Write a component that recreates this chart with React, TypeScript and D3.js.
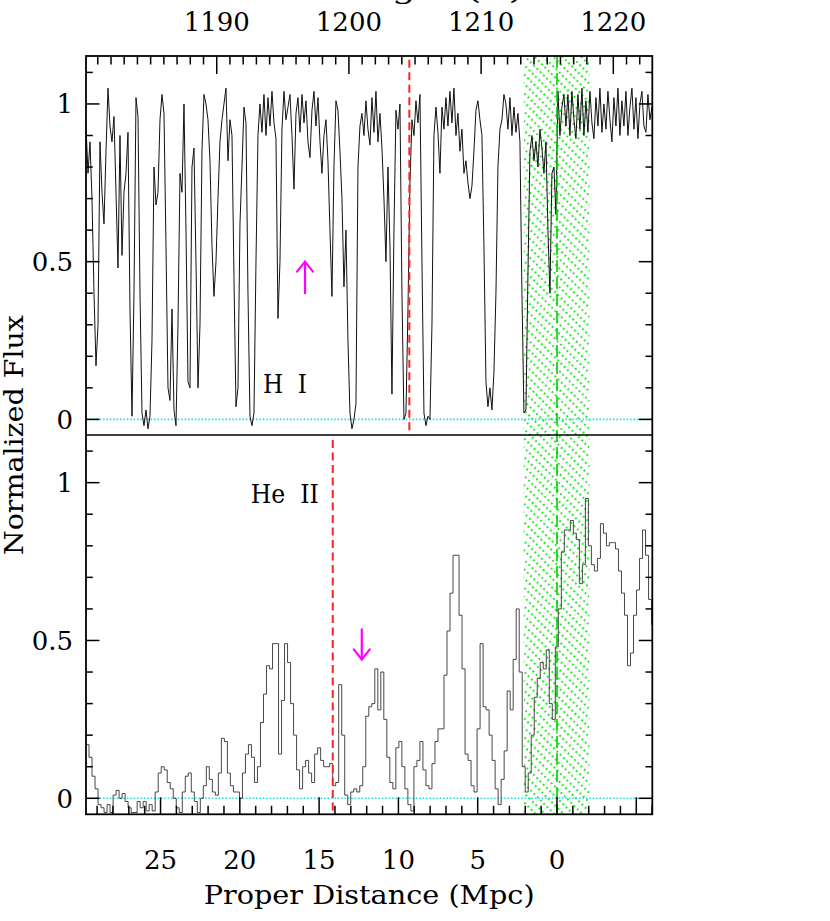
import React from "react";
import * as d3 from "d3";

// ---------------- data ----------------
// H I spectrum: flux on a uniform grid in proper distance (Mpc), decreasing distance
const hiStart = 29.70;
const hiStep = 0.1261;
const hiFlux = [
  0.93, 0.78, 0.88, 0.70, 0.40, 0.17, 0.30, 0.88, 0.72, 0.62,
  0.85, 1.05, 0.93, 0.88, 0.96, 0.72, 0.48, 0.90, 0.52, 0.72,
  0.78, 0.91, 0.35, 0.01, 0.40, 1.02, 0.96, 0.40, 0.02, -0.02,
  0.03, -0.03, 0.01, 0.25, 0.80, 0.68, 0.72, 0.95, 1.03, 0.97,
  0.55, 0.10, 0.06, 0.35, 0.03, -0.02, 0.30, 0.78, 0.72, 1.00,
  0.60, 0.12, 0.10, 0.80, 0.86, 0.50, 0.10, 0.30, 0.85, 1.03,
  1.00, 0.95, 0.82, 0.55, 0.39, 0.50, 0.70, 0.88, 0.95, 1.00,
  1.05, 0.82, 0.95, 0.90, 0.45, 0.04, 0.10, 0.62, 0.80, 0.99,
  0.94, 0.40, 0.01, -0.02, 0.02, 0.50, 0.90, 1.00, 0.91, 1.03,
  0.90, 1.02, 0.93, 1.04, 0.94, 0.89, 0.32, 0.50, 0.92, 1.04,
  0.95, 0.99, 1.03, 0.90, 0.73, 0.97, 1.02, 0.91, 1.03, 0.94,
  1.01, 0.88, 0.83, 0.98, 1.04, 0.93, 1.02, 0.88, 0.78, 0.90,
  0.95, 0.82, 0.60, 0.39, 0.80, 1.01, 0.98, 0.85, 0.70, 0.42,
  0.60, 0.25, 0.02, -0.03, 0.00, 0.05, 0.80, 0.93, 0.97, 0.90,
  1.01, 0.92, 0.87, 1.02, 0.91, 1.04, 0.88, 0.97, 0.86, 0.70,
  0.50, 0.80, 0.55, 0.08, 0.60, 0.98, 0.92, 1.00, 0.40, 0.00,
  0.02, 0.35, 0.75, 0.95, 0.90, 1.01, 0.94, 1.03, 0.50, 0.02,
  -0.02, 0.01, 0.00, 0.30, 0.90, 0.99, 0.91, 0.78, 0.99, 0.92,
  1.02, 0.93, 1.04, 0.94, 1.05, 0.90, 0.97, 0.85, 0.92, 0.78,
  0.82, 0.75, 0.70, 0.74, 0.85, 0.98, 1.01, 0.95, 0.90, 0.55,
  0.12, 0.04, 0.10, 0.03, 0.15, 0.40, 0.80, 0.92, 0.95, 1.03,
  1.00, 0.92, 1.02, 0.90, 0.99, 0.91, 0.97, 0.88, 0.40, 0.02,
  0.03, 0.46, 0.85, 0.90, 0.82, 0.88, 0.80, 0.92, 0.86, 0.78,
  0.88, 0.60, 0.40, 0.78, 0.80, 0.65, 1.04, 0.90, 0.99, 1.03,
  0.93, 1.03, 0.90, 1.04, 0.95, 0.89, 1.03, 0.92, 1.05, 0.90,
  1.01, 0.91, 1.04, 0.94, 0.89, 1.02, 0.93, 1.05, 0.91, 1.00,
  0.92, 1.04, 0.95, 0.88, 1.02, 0.93, 1.05, 0.90, 1.01, 0.93,
  1.04, 0.90, 0.99, 1.05, 0.92, 1.02, 0.89, 1.00, 1.04, 0.93,
  0.91, 1.03, 0.95, 0.99,
];

// He II spectrum: binned flux, bins of equal width in proper distance (Mpc)
const heStart = 29.70;
const heStep = 0.1897;
const heFlux = [
  0.17, 0.13, 0.07, 0.03, -0.02, -0.03, -0.045, -0.02, -0.045, 0.01,
  0.025, 0.00, 0.015, -0.01, -0.03, -0.045, -0.045, -0.01, -0.03, -0.01,
  -0.04, -0.02, -0.04, 0.02, 0.08, 0.10, 0.09, 0.05, 0.03, 0.00,
  -0.03, -0.045, 0.02, 0.07, 0.08, 0.02, -0.01, -0.045, 0.00, 0.04,
  0.10, 0.06, 0.02, 0.01, 0.08, 0.19, 0.18, 0.08, 0.04, 0.02,
  0.02, 0.00, 0.08, 0.14, 0.17, 0.13, 0.05, 0.10, 0.24, 0.33,
  0.42, 0.41, 0.49, 0.49, 0.14, 0.31, 0.49, 0.43, 0.30, 0.20,
  0.09, 0.03, 0.10, 0.12, 0.08, 0.05, 0.14, 0.16, 0.12, 0.10,
  0.10, 0.11, 0.04, 0.05, 0.36, 0.20, 0.01, -0.02, 0.02, 0.03,
  0.02, 0.04, 0.10, 0.26, 0.29, 0.30, 0.41, 0.28, 0.40, 0.25,
  0.13, 0.05, 0.03, 0.16, 0.18, 0.10, 0.03, -0.02, -0.04, 0.10,
  0.12, 0.18, 0.09, 0.04, 0.03, 0.11, 0.18, 0.22, 0.22, 0.39,
  0.53, 0.65, 0.77, 0.77, 0.58, 0.41, 0.14, 0.12, 0.04, 0.02,
  0.22, 0.49, 0.29, 0.28, 0.20, 0.12, 0.03, -0.02, 0.06, 0.15,
  0.34, 0.28, 0.44, 0.60, 0.40, 0.10, 0.02, 0.08, 0.20, 0.32,
  0.38, 0.43, 0.41, 0.47, 0.30, 0.25, 0.48, 0.60, 0.78, 0.85,
  0.85, 0.88, 0.84, 0.82, 0.68, 0.74, 0.95, 0.80, 0.74, 0.72,
  0.76, 0.87, 0.84, 0.80, 0.81, 0.81, 0.79, 0.72, 0.65, 0.58,
  0.42, 0.46, 0.58, 0.66, 0.76, 0.85, 0.77, 0.63, 0.55,
];

const fluxTickValues = [0, 0.1, 0.2, 0.3, 0.4, 0.5, 0.6, 0.7, 0.8, 0.9, 1.0, 1.1];
const fluxLabels = ["0", "0.5", "1"];
const fluxLabelValues = [0, 0.5, 1];
const distLabels = ["25", "20", "15", "10", "5", "0"];
const distLabelValues = [25, 20, 15, 10, 5, 0];
const waveLabels = ["1190", "1200", "1210", "1220"];
const waveLabelValues = [1190, 1200, 1210, 1220];

const hiMarkerDist = 9.31;   // red dashed line, H I panel
const heMarkerDist = 14.14;  // red dashed line, He II panel
const quasarDist = 0;        // green dashed line
const proximityZone = [2.1, -2.05]; // green hatched band
const hiArrow = { d: 15.89, from: 0.40, to: 0.50 };
const heArrow = { d: 12.31, from: 0.535, to: 0.44 };

const FONT = "'DejaVu Serif', serif";

export default function App() {
  const L = 86, R = 652.3, T = 56, MID = 435, B = 814.3;
  const x = d3.scaleLinear().domain([29.70, -6.01]).range([L, R]);
  const w = d3.scaleLinear().domain([1180.11, 1222.95]).range([L, R]);
  const yT = d3.scaleLinear().domain([-0.0495, 1.152]).range([MID, T]);
  const yB = d3.scaleLinear().domain([-0.0507, 1.151]).range([B, MID]);

  const hiPts: [number, number][] = hiFlux.map((f, i) => [hiStart - i * hiStep, f]);
  const hiPath = d3.line<[number, number]>().x(d => x(d[0])).y(d => yT(d[1]))(hiPts) || "";

  const hePts: [number, number][] = heFlux.map((f, i) => [heStart - i * heStep, f]);
  hePts.push([heStart - heFlux.length * heStep, heFlux[heFlux.length - 1]]);
  const hePath = d3.line<[number, number]>().curve(d3.curveStepAfter).x(d => x(d[0])).y(d => yB(d[1]))(hePts) || "";

  const distTicks = d3.range(-6, 30);
  const waveTicks = d3.range(1181, 1223);

  const isMajor = (v: number) => fluxLabelValues.some(m => Math.abs(m - v) < 1e-6);

  const zoneL = x(proximityZone[0]);
  const zoneR = x(proximityZone[1]);

  const arrow = (cx: number, y1: number, y2: number, key: string) => {
    const dir = y2 < y1 ? 1 : -1; // head at y2
    return (
      <g key={key} stroke="#ff00ff" strokeWidth={2.2} fill="none" strokeLinecap="round">
        <line x1={cx} y1={y1} x2={cx} y2={y2} />
        <polyline points={`${cx - 8},${y2 + dir * 10} ${cx},${y2} ${cx + 8},${y2 + dir * 10}`} />
      </g>
    );
  };

  return (
    <svg width={830} height={921} style={{ position: "absolute", left: 0, top: 0, background: "#fff" }}
      fontFamily={FONT}>
      <defs>
        <clipPath id="clipTop"><rect x={L} y={T} width={R - L} height={MID - T} /></clipPath>
        <clipPath id="clipBot"><rect x={L} y={MID} width={R - L} height={B - MID} /></clipPath>
        <pattern id="hatch" patternUnits="userSpaceOnUse" width={6.6} height={4.6} patternTransform="rotate(-45)">
          <line x1={1.2} y1={0} x2={1.2} y2={4.6} stroke="#00e600" strokeWidth={1.8} strokeDasharray="1.8 2.8" />
        </pattern>
      </defs>

      {/* green hatched proximity zone */}
      <rect x={zoneL} y={T} width={zoneR - zoneL} height={B - T} fill="url(#hatch)" />

      {/* zero lines */}
      <line x1={L} x2={R} y1={yT(0)} y2={yT(0)} stroke="#22dede" strokeWidth={1.6} strokeDasharray="1.6 1.8" />
      <line x1={L} x2={R} y1={yB(0)} y2={yB(0)} stroke="#22dede" strokeWidth={1.6} strokeDasharray="1.6 1.8" />

      {/* spectra */}
      <path d={hiPath} fill="none" stroke="#111" strokeWidth={1} clipPath="url(#clipTop)" />
      <path d={hePath} fill="none" stroke="#333" strokeWidth={0.9} clipPath="url(#clipBot)" />

      {/* markers */}
      <line x1={x(hiMarkerDist)} x2={x(hiMarkerDist)} y1={yT(1.14)} y2={MID} stroke="#ff2020" strokeWidth={2} strokeDasharray="8 4.5" />
      <line x1={x(heMarkerDist)} x2={x(heMarkerDist)} y1={yB(1.135)} y2={B} stroke="#ff2020" strokeWidth={2} strokeDasharray="8 4.5" />
      <line x1={x(quasarDist)} x2={x(quasarDist)} y1={T} y2={B} stroke="#00cc00" strokeWidth={1.6} strokeDasharray="12 5" />

      {arrow(x(hiArrow.d), yT(hiArrow.from), yT(hiArrow.to), "a1")}
      {arrow(x(heArrow.d), yB(heArrow.from), yB(heArrow.to), "a2")}

      {/* ion labels */}
      <text x={x(18.54)} y={yT(0.083)} fontSize={26} xmlSpace="preserve" style={{ whiteSpace: "pre" }} textLength={44} lengthAdjust="spacingAndGlyphs">{"H  I"}</text>
      <text x={x(19.31)} y={yB(0.937)} fontSize={26} xmlSpace="preserve" style={{ whiteSpace: "pre" }} textLength={68} lengthAdjust="spacingAndGlyphs">{"He  II"}</text>

      {/* frame */}
      <rect x={L} y={T} width={R - L} height={B - T} fill="none" stroke="#000" strokeWidth={1.8} />
      <line x1={L} x2={R} y1={MID} y2={MID} stroke="#000" strokeWidth={1.6} />

      {/* flux ticks both panels */}
      {[yT, yB].map((ys, pi) => (
        <g key={"ft" + pi} stroke="#000" strokeWidth={1.5}>
          {fluxTickValues.map(v => {
            const len = isMajor(v) ? 13.5 : 6.8;
            return (
              <g key={v}>
                <line x1={L} x2={L + len} y1={ys(v)} y2={ys(v)} />
                <line x1={R} x2={R - len} y1={ys(v)} y2={ys(v)} />
              </g>
            );
          })}
        </g>
      ))}
      {[yT, yB].map((ys, pi) => (
        <g key={"fl" + pi} fontSize={26} textAnchor="end" fill="#000">
          {fluxLabelValues.map((v, i) => (
            <text key={v} x={73} y={ys(v)} dy="0.36em">{fluxLabels[i]}</text>
          ))}
        </g>
      ))}

      {/* distance axis (bottom) */}
      <g stroke="#000" strokeWidth={1.5}>
        {distTicks.map(d => (
          <line key={d} x1={x(d)} x2={x(d)} y1={B} y2={B - (d % 5 === 0 ? 17 : 8.5)} />
        ))}
      </g>
      <g fontSize={26} textAnchor="middle" fill="#000">
        {distLabelValues.map((d, i) => (
          <text key={d} x={x(d)} y={869}>{distLabels[i]}</text>
        ))}
      </g>
      <text x={(L + R) / 2} y={904} fontSize={26} textAnchor="middle" textLength={331} lengthAdjust="spacingAndGlyphs">Proper Distance (Mpc)</text>

      {/* wavelength axis (top) */}
      <g stroke="#000" strokeWidth={1.5}>
        {waveTicks.map(v => (
          <line key={v} x1={w(v)} x2={w(v)} y1={T} y2={T + (v % 10 === 0 ? 18 : 8.5)} />
        ))}
      </g>
      <g fontSize={26} textAnchor="middle" fill="#000">
        {waveLabelValues.map((v, i) => (
          <text key={v} x={w(v)} y={31}>{waveLabels[i]}</text>
        ))}
      </g>
      <text x={378} y={-1} fontSize={26} textAnchor="middle" textLength={290} lengthAdjust="spacingAndGlyphs">Wavelength (Å)</text>

      {/* y title */}
      <text transform={`translate(23,${(T + B) / 2}) rotate(-90)`} fontSize={26} textAnchor="middle" textLength={240} lengthAdjust="spacingAndGlyphs">Normalized Flux</text>
    </svg>
  );
}
